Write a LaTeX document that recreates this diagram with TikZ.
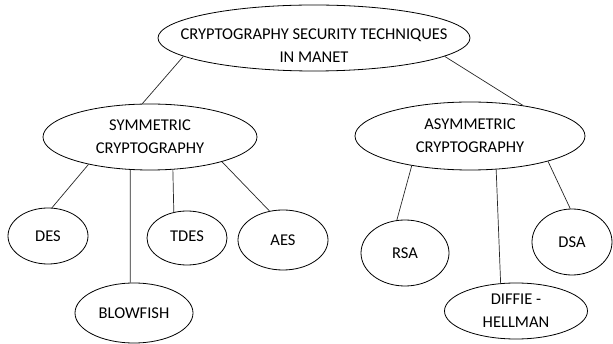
\documentclass[tikz,border=0pt]{standalone}
\usepackage{fontspec}
\setmainfont{Carlito}
\usetikzlibrary{shapes.geometric}
\begin{document}
\begin{tikzpicture}[x=1pt,y=-1pt,
  el/.style={draw=black, ellipse, line width=0.8pt, inner sep=0pt, align=center,
    font=\fontsize{16.5}{23}\selectfont, fill=white},
  link/.style={draw=black!85, line width=0.7pt}]
\useasboundingbox (0,0) rectangle (613,344);
\node[el, minimum width=312pt, minimum height=66pt, inner xsep=-30pt] (top) at (314,38)
  {\raisebox{-8pt}[\height][\depth]{\begin{tabular}{@{}c@{}}CRYPTOGRAPHY SECURITY TECHNIQUES\\IN MANET\end{tabular}}};
\node[el, minimum width=214pt, minimum height=66pt] (sym) at (150,137) {SYMMETRIC\\CRYPTOGRAPHY};
\node[el, minimum width=230pt, minimum height=68pt] (asym) at (470,136) {ASYMMETRIC\\CRYPTOGRAPHY};
\node[el, minimum width=80pt, minimum height=56pt] (des) at (48,236) {DES};
\node[el, minimum width=80pt, minimum height=54pt] (tdes) at (187,238) {\raisebox{3pt}{TDES}};
\node[el, minimum width=90pt, minimum height=60pt] (aes) at (283,240) {AES};
\node[el, minimum width=118pt, minimum height=60pt] (blow) at (134,313) {BLOWFISH};
\node[el, minimum width=88pt, minimum height=66pt] (rsa) at (405,253) {RSA};
\node[el, minimum width=80pt, minimum height=66pt] (dsa) at (572,242) {DSA};
\node[el, minimum width=143pt, minimum height=56pt] (dh) at (516,311) {DIFFIE -\\HELLMAN};
\draw[link] (top.188) -- (sym.103);
\draw[link] (top.352) -- (asym.30);
\draw[link] (sym.204) -- (des.82);
\draw[link] (sym.239) -- (blow.97);
\draw[link] (sym.305) -- (tdes.117);
\draw[link] (sym.341) -- (aes.115);
\draw[link] (asym.207) -- (rsa.104);
\draw[link] (asym.308) -- (dh.119);
\draw[link] (asym.342) -- (dsa.93);
\end{tikzpicture}
\end{document}
